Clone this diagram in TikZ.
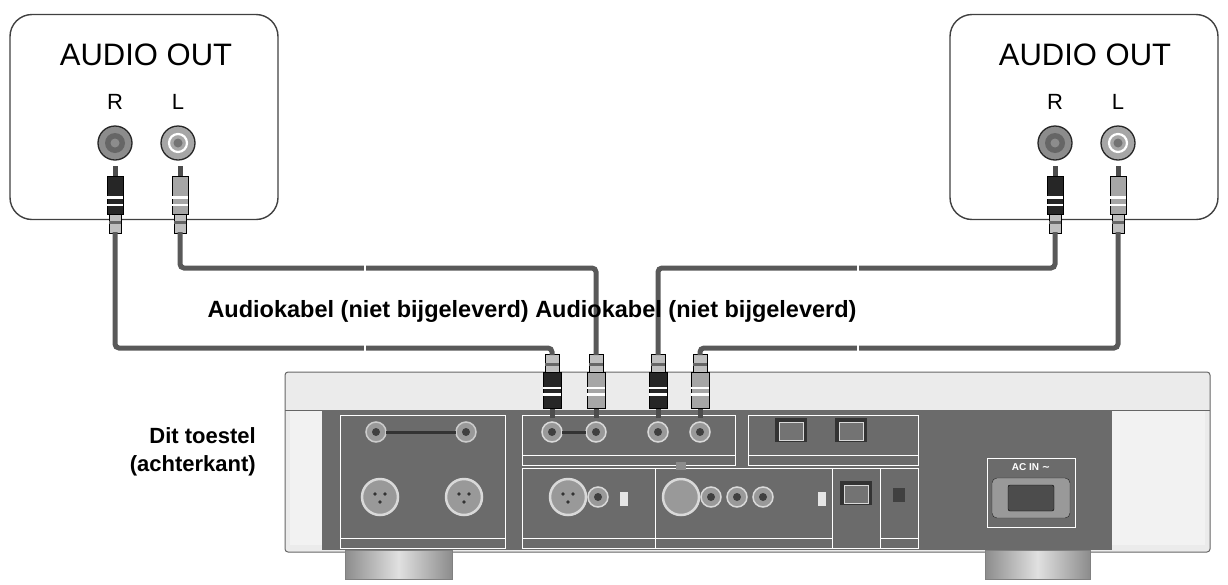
\documentclass[tikz,border=0pt]{standalone}
\usepackage{fontspec}
\setmainfont{Liberation Sans}
\newfontfamily\djv{DejaVu Sans}
\begin{document}
\begin{tikzpicture}[x=1pt,y=-1pt,
  srcbox/.style={draw=black!75,line width=1.4pt,rounded corners=22pt},
  cable/.style={draw=black!65,line width=5pt,rounded corners=4pt},
  panel/.style={draw=white,line width=1pt},
  lbl/.style={font=\fontsize{23.5}{25}\selectfont\bfseries,inner sep=0pt}]
\useasboundingbox (0,0) rectangle (1228,584);
\newcommand{\rcaplug}[3]{% x, y (pin tip), fill colour; body downward
 \begin{scope}[shift={(#1,#2)}]
  \fill[black!70] (-2.5,0) rectangle (2.5,10);
  \fill[#3,draw=black] (-8,10) rectangle (8,48);
  \fill[white] (-8,30) rectangle (8,33); \fill[white] (-8,38) rectangle (8,40);
  \fill[black!25,draw=black] (-6,48) rectangle (6,67);
  \fill[black!60] (-6,55) rectangle (6,58);
 \end{scope}}
\newcommand{\rcaplugdown}[3]{% x, y (pin tip), colour; body upward
 \begin{scope}[shift={(#1,#2)},yscale=-1]
  \fill[black!70] (-2.5,0) rectangle (2.5,10);
  \fill[#3,draw=black] (-9,10) rectangle (9,46);
  \fill[white] (-9,22) rectangle (9,25); \fill[white] (-9,29) rectangle (9,31);
  \fill[black!25,draw=black] (-7,46) rectangle (7,64);
  \fill[black!60] (-7,52) rectangle (7,55);
 \end{scope}}
% source boxes
\node[srcbox,minimum width=268pt,minimum height=205pt] (srcL) at (144,117) {};
\node[srcbox,minimum width=268pt,minimum height=205pt] (srcR) at (1084,117) {};
\node[font=\fontsize{31}{32}\selectfont] (aoL) at (146,55) {AUDIO OUT};
\node[font=\fontsize{31}{32}\selectfont] (aoR) at (1085,55) {AUDIO OUT};
\foreach \x/\t in {115/R,178/L,1055/R,1118/L}{
  \node[font=\fontsize{22}{24}\selectfont] at (\x,102) {\t};}
\foreach \x in {115,1055}{
  \fill[black!45,draw=black!85,line width=1.3pt] (\x,143) circle (17);
  \fill[black!60] (\x,143) circle (10); \fill[black!45] (\x,143) circle (4.5);}
\foreach \x in {178,1118}{
  \fill[black!35,draw=black!85,line width=1.3pt] (\x,143) circle (17);
  \draw[white,line width=2.2pt] (\x,143) circle (9); \fill[black!55] (\x,143) circle (4.5);}
% device
\fill[black!8,draw=black!60,line width=1pt,rounded corners=3pt] (285,372) rectangle (1210,552);
\fill[black!5] (290,410) rectangle (322,545);
\fill[black!5] (1112,410) rectangle (1205,545);
\draw[black!60] (285,410) -- (1210,410);
\fill[black!58] (322,410) rectangle (1112,550);
\foreach \a/\b in {345/452,985/1090}{
  \shade[left color=black!45,right color=black!45,middle color=black!12,draw=black!50] (\a,550) rectangle (\b,579);}
% panels
\draw[panel] (340,415) rectangle (505,548); \draw[panel] (340,538) -- (505,538);
\draw[panel] (522,415) rectangle (735,465); \draw[panel] (522,455) -- (735,455);
\draw[panel] (748,415) rectangle (918,465); \draw[panel] (748,455) -- (918,455);
\draw[panel] (522,468) rectangle (918,548); \draw[panel] (522,538) -- (832,538);
\draw[panel] (655,468) -- (655,548); \draw[panel] (832,468) -- (832,548); \draw[panel] (880,468) -- (880,548); \draw[panel] (880,538) -- (918,538);
\draw[panel] (987,458) rectangle (1075,527);
\node[white,font=\fontsize{10}{11}\selectfont\bfseries] at (1031,467) {AC IN {\djv\char"223C}};
\fill[black!40,draw=black!85,rounded corners=5pt] (992,478) rectangle (1070,518);
\fill[black!70,draw=black,rounded corners=2pt] (1008,485) rectangle (1054,511);
% device connectors
\foreach \x in {376,466}{\fill[black!40,draw=black!20,line width=1.5pt] (\x,432) circle (10); \fill[black!75] (\x,432) circle (4);}
\draw[black!80,line width=3pt] (386,432) -- (456,432);
\foreach \x in {380,464,568}{\fill[black!40,draw=black!15,line width=2.5pt] (\x,497) circle (18);
  \foreach \d in {-5,5}{\fill[black!80] (\x+\d,494) circle (1.8);} \fill[black!80] (\x,502) circle (1.8);}
\fill[black!40,draw=black!15,line width=2.5pt] (681,497) circle (18); \fill[black!45] (676,462) rectangle (686,470);
\foreach \x in {598,711,737,763}{\fill[black!40,draw=black!15,line width=1.5pt] (\x,497) circle (10); \fill[black!75] (\x,497) circle (4);}
\foreach \x in {552,596,658,700}{\fill[black!40,draw=black!15,line width=1.5pt] (\x,432) circle (10); \fill[black!75] (\x,432) circle (4);}
\draw[black!80,line width=3pt] (562,432) -- (586,432);
\foreach \x in {624,822}{\fill[black!10] (\x-4,492) rectangle (\x+4,506);}
\foreach \x/\y in {791/430,851/430,856/493}{\fill[black!80] (\x-16,\y-12) rectangle (\x+16,\y+12); \fill[black!55,draw=black!15] (\x-12,\y-8) rectangle (\x+12,\y+10);}
\fill[black!75] (893,488) rectangle (905,502);
% plugs
\rcaplug{115}{166}{black!85}
\rcaplug{180}{166}{black!35}
\rcaplug{1055}{166}{black!85}
\rcaplug{1118}{166}{black!35}
\rcaplugdown{552}{418}{black!85}
\rcaplugdown{596}{418}{black!35}
\rcaplugdown{658}{418}{black!85}
\rcaplugdown{700}{418}{black!35}
% cable ends
\coordinate (lr0) at (115,232); \coordinate (lr1) at (552,355);
\coordinate (ll0) at (180,232); \coordinate (ll1) at (596,355);
\coordinate (rr0) at (1055,232); \coordinate (rr1) at (658,355);
\coordinate (rl0) at (1118,232); \coordinate (rl1) at (700,355);
\draw[cable] (lr0) |- (552,348) -- (lr1);
\draw[cable] (ll0) |- (596,268) -- (ll1);
\draw[cable] (rr0) |- (658,268) -- (rr1);
\draw[cable] (rl0) |- (700,348) -- (rl1);
\foreach \x in {365,858}{\foreach \y in {268,348}{\draw[white,line width=1.2pt] (\x,\y-8) -- (\x,\y+8);}}
% labels
\node[lbl] (cab) at (532,311) {Audiokabel (niet bijgeleverd) Audiokabel (niet bijgeleverd)};
\node[lbl,align=right,anchor=east,font=\fontsize{22}{28}\selectfont\bfseries] (dev) at (256,452) {Dit toestel\\(achterkant)};
\end{tikzpicture}
\end{document}
